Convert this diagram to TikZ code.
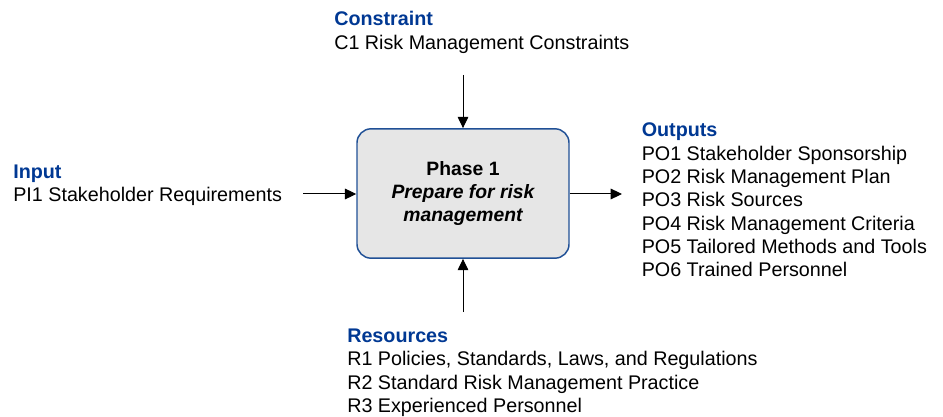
\documentclass[tikz,border=0pt]{standalone}
\usepackage{fontspec}
\setmainfont{Liberation Sans}
\usetikzlibrary{arrows.meta}
\definecolor{headblue}{RGB}{0,56,147}
\definecolor{boxblue}{RGB}{32,80,150}
\definecolor{boxgray}{RGB}{230,230,230}
\newcommand{\blockhead}[1]{\textcolor{headblue}{\textbf{#1}}}

\begin{document}
\begin{tikzpicture}[x=0.75pt,y=-0.75pt]
    \tikzstyle{txt}=[anchor=base west, inner sep=0, align=left, font=\fontsize{14.8}{17.5}\selectfont];
    \tikzstyle{phasebox}=[draw=boxblue, line width=1.1pt, fill=boxgray, rounded corners=10.5pt, minimum width=159pt, minimum height=97pt, align=center, font=\fontsize{14.5}{17.5}\selectfont\bfseries];
    \tikzstyle{arr}=[line width=0.75pt, -{Triangle[length=8.5pt,width=8pt]}];

    \useasboundingbox (0,0) rectangle (943,417);

    \node[phasebox] at (463,193.5) (phase) {Phase 1\\\itshape Prepare for risk\\\itshape management};

    % base anchor sits on the last line
    \node[txt] at (334,49.3) (constr) {\blockhead{Constraint}\\C1 Risk Management Constraints};
    \node[txt] at (13,201.7) (input) {\blockhead{Input}\\PI1 Stakeholder Requirements};
    \node[txt] at (641.5,276.7) (outputs) {\blockhead{Outputs}\\PO1 Stakeholder Sponsorship\\PO2 Risk Management Plan\\PO3 Risk Sources\\PO4 Risk Management Criteria\\PO5 Tailored Methods and Tools\\PO6 Trained Personnel};
    \node[txt] at (347,412.5) (res) {\blockhead{Resources}\\R1 Policies, Standards, Laws, and Regulations\\R2 Standard Risk Management Practice\\R3 Experienced Personnel};

    \coordinate (ctop) at (463,75);
    \coordinate (inbeg) at (303,194);
    \coordinate (outend) at (622,194);
    \coordinate (rbeg) at (463,312);

    \draw[arr] (ctop) -- (phase.north);
    \draw[arr] (inbeg) -- (inbeg -| phase.west);
    \draw[arr] (outend -| phase.east) -- (outend);
    \draw[arr] (rbeg) -- (phase.south);
\end{tikzpicture}
\end{document}
